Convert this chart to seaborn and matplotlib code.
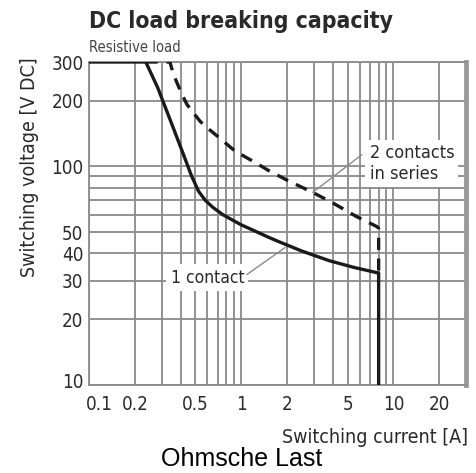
import numpy as np
import pandas as pd
import matplotlib
matplotlib.use("Agg")
import matplotlib.pyplot as plt
import matplotlib.transforms as mtrans
import seaborn as sns

# Data
one_x = [0.1, 0.236, 0.282, 0.344, 0.418, 0.47, 0.524, 0.58, 0.65, 0.76,
         1.0, 1.2, 1.5, 1.8, 2.5, 3.8, 5.5, 8.0, 8.0]
one_y = [300, 300, 230, 161, 113, 91, 77, 70, 65, 60,
         54, 51, 47.5, 45, 41, 37, 34.5, 32.5, 10]
two_x = [0.236, 0.34, 0.36, 0.40, 0.44, 0.49, 0.54, 0.62, 0.71, 0.89, 1.05, 1.27, 1.5,
         2.03, 2.95, 4.0, 5.7, 7.8, 8.0, 8.0]
two_y = [300, 300, 262, 220, 192, 174, 160, 147, 136, 119, 111, 103, 96,
         86, 76, 68, 59, 53, 52, 33]
x_major = [0.1, 0.2, 0.5, 1, 2, 5, 10, 20]
x_major_labels = ["0.1", "0.2", "0.5", "1", "2", "5", "10", "20"]
x_minor = [0.3, 0.4, 0.6, 0.7, 0.8, 0.9, 3, 4, 6, 7, 8, 9]
y_major = [10, 20, 30, 40, 50, 100, 200, 300]
y_major_labels = ["10", "20", "30", "40", "50", "100", "200", "300"]
y_minor = [60, 70, 80, 90]

sns.set_style("white")
plt.rcParams['font.family'] = ['DejaVu Sans']
COND = dict(fontstretch='condensed')
TXT = '#2a2a2a'

fig = plt.figure(figsize=(4.76, 4.73), dpi=100)
ax = fig.add_axes([89/476, (473-385)/473, (466-89)/476, (385-62)/473])
ax.set_xscale('log')
ax.set_yscale('log')
ax.set_xlim(0.1, 30)
ax.set_ylim(10, 300)

ax.set_xticks(x_major)
ax.set_xticklabels(x_major_labels)
ax.set_xticks(x_minor, minor=True)
ax.set_yticks(y_major)
ax.set_yticklabels(y_major_labels)
ax.set_yticks(y_minor, minor=True)
ax.tick_params(which='both', length=0, labelsize=13.5, colors=TXT)
ax.tick_params(axis='x', pad=7)
ax.tick_params(axis='y', pad=4)
ax.tick_params(axis='x', which='minor', labelbottom=False)
ax.tick_params(axis='y', which='minor', labelleft=False)
for lab in ax.get_xticklabels() + ax.get_yticklabels():
    lab.set_fontstretch('condensed')
xl = ax.get_xticklabels()
xl[0].set_horizontalalignment('left')
xl[0].set_transform(xl[0].get_transform() + mtrans.ScaledTranslation(-3/100, 0, fig.dpi_scale_trans))
yl = ax.get_yticklabels()
yl[0].set_transform(yl[0].get_transform() + mtrans.ScaledTranslation(0, 5/100, fig.dpi_scale_trans))

ax.grid(True, which='both', color='#8a8a8a', linewidth=1.3, zorder=0)
ax.set_axisbelow(True)
for s in ['left', 'bottom', 'top']:
    ax.spines[s].set_color('#8a8a8a')
    ax.spines[s].set_linewidth(1.3)
ax.spines['right'].set_color('#9a9a9a')
ax.spines['right'].set_linewidth(3.5)

df1 = pd.DataFrame({'x': one_x, 'y': one_y})
df2 = pd.DataFrame({'x': two_x, 'y': two_y})
sns.lineplot(data=df1, x='x', y='y', sort=False, estimator=None, ax=ax,
             color='#1a1a1a', linewidth=2.4, zorder=5)
sns.lineplot(data=df2, x='x', y='y', sort=False, estimator=None, ax=ax,
             color='#1a1a1a', linewidth=2.4, zorder=4)
ax.lines[-1].set_dashes([3.6, 2.6])
ax.set_xlabel('')
ax.set_ylabel('')

bbox = dict(facecolor='white', edgecolor='none', pad=3)
ax.text(6.97, 103, "2 contacts\nin series", ha='left', va='center', fontsize=13,
        color=TXT, bbox=bbox, zorder=3, linespacing=1.2, **COND)
ax.text(0.6, 31, "1 contact", ha='center', va='center', fontsize=12.5,
        color=TXT, bbox=bbox, zorder=3, **COND)
ax.plot([6.2, 2.95], [113, 76], color='#8a8a8a', linewidth=1.0, zorder=6)
ax.plot([1.09, 1.94], [32, 42.5], color='#8a8a8a', linewidth=1.0, zorder=6)

fig.text(89/476, 1-21/473, "DC load breaking capacity", ha='left', va='center',
         fontsize=16.5, fontweight='bold', color=TXT, **COND)
fig.text(89/476, 1-48/473, "Resistive load", ha='left', va='center',
         fontsize=10.5, color='#444444', **COND)
fig.text(30/476, 1-167/473, "Switching voltage [V DC]", ha='center', va='center',
         rotation=90, fontsize=14, color=TXT, **COND)
fig.text(468/476, 1-437/473, "Switching current [A]", ha='right', va='center',
         fontsize=14, color=TXT, **COND)
fig.text(242/476, 1-459/473, "Ohmsche Last", ha='center', va='center',
         fontsize=18, color='black', family='Liberation Sans')

fig.savefig('out.png', dpi=100)
